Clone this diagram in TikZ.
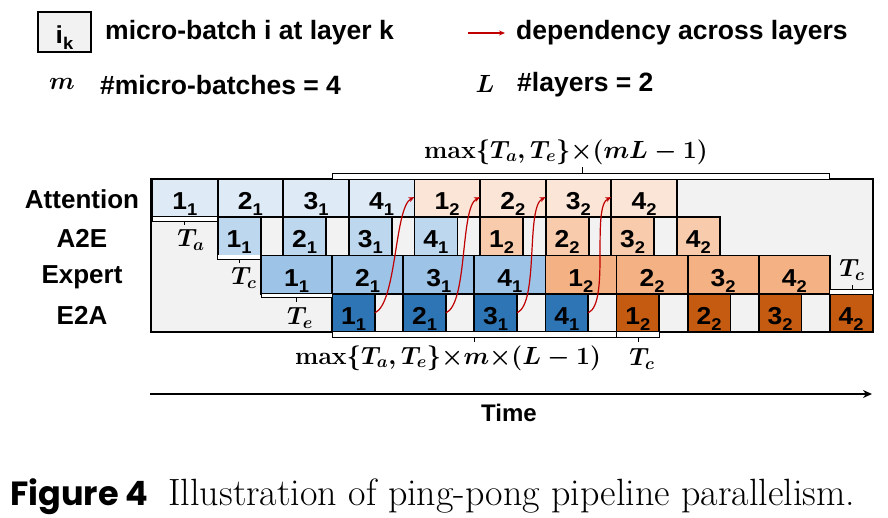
\documentclass[tikz,border=0pt]{standalone}
\usepackage{fontspec}
\usepackage{amsmath}
\newfontfamily\arial{Liberation Sans}
\newfontfamily\arialw{Liberation Sans}[FakeStretch=1.08]
\newfontfamily\popp{Poppins}
\usetikzlibrary{arrows.meta}
\definecolor{bggray}{HTML}{F2F2F2}
\definecolor{att1}{HTML}{DEEBF7}
\definecolor{att2}{HTML}{FBE5D6}
\definecolor{aee1}{HTML}{BDD7EE}
\definecolor{aee2}{HTML}{F8CBAD}
\definecolor{exp1}{HTML}{9DC3E6}
\definecolor{exp2}{HTML}{F4B183}
\definecolor{eea1}{HTML}{2E75B6}
\definecolor{eea2}{HTML}{C55A11}
\definecolor{depred}{HTML}{C00000}
\newcommand\mbl[2]{#1\smash{\raisebox{-6pt}{\fontsize{17}{17}\selectfont #2}}}
\tikzset{
  cell/.style={draw=black, line width=1.8pt, minimum height=38.25pt, inner sep=0pt, outer sep=0pt, anchor=north west, text height=23pt, text depth=0pt, font=\arialw\bfseries\fontsize{24.5}{24.5}\selectfont},
  rowlabel/.style={font=\arial\bfseries\fontsize{26}{26}\selectfont, inner sep=0pt},
  legtext/.style={font=\arial\bfseries\fontsize{26.5}{26.5}\selectfont, inner sep=0pt, anchor=west},
  mathlab/.style={font=\fontsize{24.5}{24.5}\selectfont\boldmath, inner sep=0pt},
  brk/.style={line width=0.9pt, fill=white},
  tick/.style={line width=0.9pt},
  dep/.style={depred, line width=1.2pt, -{Stealth[length=6pt,width=5pt]}},
}
\begin{document}
\begin{tikzpicture}[x=1pt,y=-1pt]
\useasboundingbox (0,0) rectangle (888,518);
% legend
\node[draw=black, line width=2pt, fill=bggray, minimum width=53pt, minimum height=40pt, inner sep=0pt, text height=23pt, text depth=0pt, font=\arialw\bfseries\fontsize{24.5}{24.5}\selectfont] (legbox) at (64.5,32) {\mbl{i}{k}};
\node[legtext] (legt1) at (105,33) {micro-batch i at layer k};
\coordinate (depA) at (468,33);
\coordinate (depB) at (505,33);
\draw[dep] (depA) -- (depB);
\node[legtext] (legt2) at (516,33) {dependency across layers};
\node[mathlab, font=\fontsize{29}{29}\selectfont\boldmath] (legm) at (62,84) {$m$};
\node[legtext] (legt3) at (100,85) {\#micro-batches = 4};
\node[mathlab, font=\fontsize{29}{29}\selectfont\boldmath] (legL) at (485,84) {$L$};
\node[legtext] (legt4) at (517,85) {\#layers = 2};
% row labels
\node[rowlabel] (rAtt) at (82,199) {Attention};
\node[rowlabel] (rA2E) at (82,238) {A2E};
\node[rowlabel] (rExp) at (82,277) {Expert};
\node[rowlabel] (rE2A) at (82,315) {E2A};
% outer box
\draw[line width=2pt, fill=bggray] (151,179) rectangle (873,332);
% row regions with gap cells
\draw[line width=1.8pt, fill=bggray] (217.6,217.25) rectangle (719.8,255.5);
\draw[line width=1.8pt, fill=bggray] (332.1,293.75) rectangle (873,332);
% Attention
\foreach \k/\i/\l in {1/1/1,2/2/1,3/3/1,4/4/1,5/1/2,6/2/2,7/3/2,8/4/2}{
  \pgfmathsetmacro\xa{152+(\k-1)*65.6}
  \node[cell, fill=att\l, minimum width=65.6pt] (a\k) at (\xa,179) {\mbl{\i}{\l}};
}
% A2E
\foreach \k/\i/\l in {1/1/1,2/2/1,3/3/1,4/4/1,5/1/2,6/2/2,7/3/2,8/4/2}{
  \pgfmathsetmacro\xa{152+\k*65.6}
  \node[cell, fill=aee\l, minimum width=43pt] (c\k) at (\xa,217.25) {\mbl{\i}{\l}};
}
% Expert
\foreach \k/\i/\l in {1/1/1,2/2/1,3/3/1,4/4/1,5/1/2,6/2/2,7/3/2,8/4/2}{
  \pgfmathsetmacro\xa{261+(\k-1)*71.1}
  \node[cell, fill=exp\l, minimum width=71.1pt] (x\k) at (\xa,255.5) {\mbl{\i}{\l}};
}
% E2A
\foreach \k/\i/\l in {1/1/1,2/2/1,3/3/1,4/4/1,5/1/2,6/2/2,7/3/2,8/4/2}{
  \pgfmathsetmacro\xa{261+\k*71.1}
  \node[cell, fill=eea\l, minimum width=42.8pt] (e\k) at (\xa,293.75) {\mbl{\i}{\l}};
}
% dependency arrows
\foreach \k/\t in {1/5,2/6,3/7,4/8}{
  \draw[dep] (e\k.east) .. controls +(22,-10) and +(-20,10) .. ([yshift=1pt]a\t.west);
}
% small brackets
\draw[brk] (152,217.25) -- (152,221.5) -- (217.6,221.5) -- (217.6,217.25);
\draw[tick] (184.5,221.5) -- (184.5,225.5);
\node[mathlab] (Ta) at (191,240) {$T_a$};
\draw[brk] (217.6,255.5) -- (217.6,259.5) -- (260.6,259.5) -- (260.6,255.5);
\draw[tick] (239,259.5) -- (239,263.5);
\node[mathlab] (Tc1) at (244,278) {$T_c$};
\draw[brk] (261,293.75) -- (261,297.75) -- (332.1,297.75) -- (332.1,293.75);
\draw[tick] (296.5,297.75) -- (296.5,301.75);
\node[mathlab] (Te) at (300,318) {$T_e$};
\draw[brk] (829.8,293.75) -- (829.8,289.5) -- (873,289.5) -- (873,293.75);
\draw[tick] (852,289.5) -- (852,285.5);
\node[mathlab] (Tc2) at (852,270) {$T_c$};
% top bracket
\draw[brk] (332.1,179) -- (332.1,173) -- (829.8,173) -- (829.8,179);
\draw[tick] (582,173) -- (582,167);
\node[mathlab] (topl) at (566,152) {$\mathbf{max}\{T_a,T_e\}{\times}(mL-1)$};
% bottom brackets
\draw[brk] (332.1,332) -- (332.1,337) -- (616.5,337) -- (616.5,332);
\draw[tick] (474,337) -- (474,342);
\node[mathlab] (botl) at (448,358) {$\mathbf{max}\{T_a,T_e\}{\times}m{\times}(L-1)$};
\draw[brk] (616.5,332) -- (616.5,337) -- (659.3,337) -- (659.3,332);
\draw[tick] (638,337) -- (638,342);
\node[mathlab] (Tc3) at (642,359) {$T_c$};
% time axis
\coordinate (tA) at (150,394);
\coordinate (tB) at (872,394);
\draw[line width=2pt, -{Stealth[length=9pt,width=8pt]}] (tA) -- (tB);
\node[font=\arial\bfseries\fontsize{24}{24}\selectfont, inner sep=0pt] (time) at (509,413) {Time};
% caption
\node[anchor=base west, inner sep=0pt] (cap) at (10,505) {{\popp\bfseries\fontsize{33.5}{34}\selectfont Figure 4}\hspace{20pt}{\fontsize{38}{38}\selectfont Illustration of ping-pong pipeline parallelism.}};
\end{tikzpicture}
\end{document}
